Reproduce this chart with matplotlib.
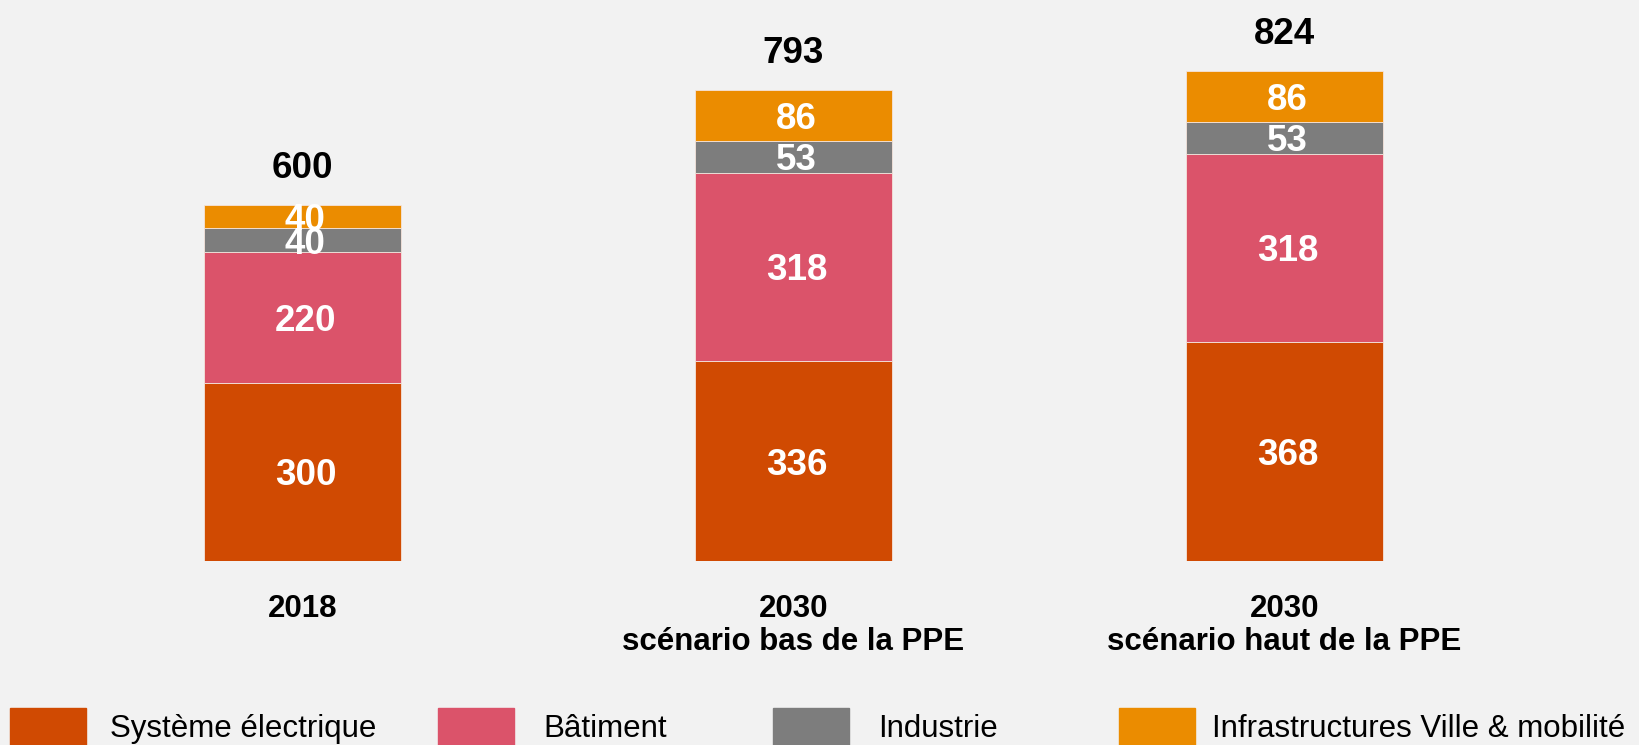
import numpy as np
import matplotlib.pyplot as plt
from matplotlib.patches import Rectangle

plt.rcParams['font.family'] = ['Liberation Sans', 'DejaVu Sans']

categories = ["2018", "2030\nscénario bas de la PPE", "2030\nscénario haut de la PPE"]
series_names = ["Système électrique", "Bâtiment", "Industrie", "Infrastructures Ville & mobilité"]
systeme = [300, 336, 368]
batiment = [220, 318, 318]
industrie = [40, 53, 53]
infra = [40, 86, 86]
totals = [600, 793, 824]

colors = ["#D04A02", "#DB536A", "#7D7D7D", "#EB8C00"]
bg = "#F2F2F2"

W, H = 1639, 745
fig = plt.figure(figsize=(W / 100, H / 100), dpi=100, facecolor=bg)
ax = fig.add_axes([0, 184 / H, 1, 561 / H])
ax.set_facecolor(bg)

x = np.arange(len(categories))
width = 0.401
bottom = np.zeros(len(categories))
for vals, col in zip([systeme, batiment, industrie, infra], colors):
    ax.bar(x, vals, width, bottom=bottom, color=col, edgecolor="#f4e4dc", linewidth=0.6)
    for xi, b, v in zip(x, bottom, vals):
        ax.text(xi + 0.006, b + v / 2, str(v), ha="center", va="center_baseline",
                color="white", fontsize=26.5, fontweight="bold")
    bottom += np.array(vals)

for xi, top, t in zip(x, bottom, totals):
    ax.annotate(str(t), (xi, top), xytext=(0, 29), textcoords="offset points",
                ha="center", va="center_baseline", fontsize=26.5, fontweight="bold")

ax.set_xlim(-0.616, 2.722)
ax.set_ylim(0, 944.5)
ax.set_xticks(x, categories)
ax.tick_params(axis="x", length=0, pad=24, labelsize=22.5)
for lab in ax.get_xticklabels():
    lab.set_fontweight("bold")
    lab.set_linespacing(1.12)
ax.set_yticks([])
for s in ax.spines.values():
    s.set_visible(False)

# legend drawn by hand, patches run off the bottom edge
patch_x = [10, 438, 773, 1119]
text_x = [110, 543, 878, 1212]
for px, tx, name, col in zip(patch_x, text_x, series_names, colors):
    fig.patches.append(Rectangle((px / W, -0.02), 76 / W, (745 - 708) / H + 0.02,
                                 transform=fig.transFigure, color=col))
    fig.text(tx / W, (745 - 737) / H, name, fontsize=22.5, va="baseline", ha="left")

fig.savefig("out.png", dpi=100, facecolor=bg)
